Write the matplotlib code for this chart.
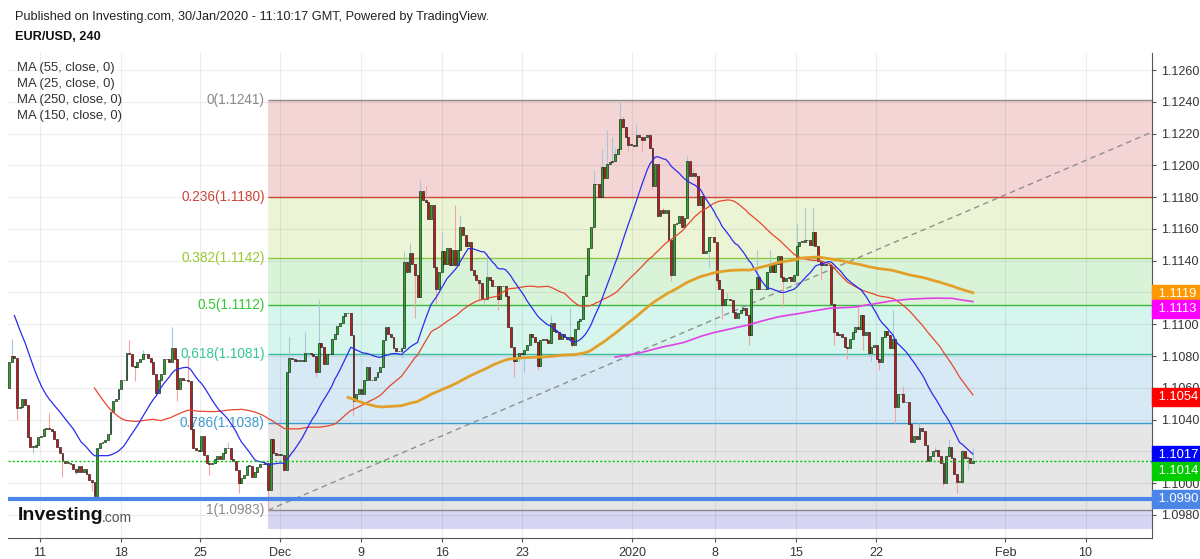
import numpy as np
import pandas as pd
import matplotlib
matplotlib.use('Agg')
import matplotlib.pyplot as plt
from matplotlib import transforms

plt.rcParams['font.family'] = ['Liberation Sans', 'DejaVu Sans']

# EUR/USD 4H closes in pips above 1.0900
# bars before the visible window (only feed the moving averages)
pre_close = [262, 258, 255, 252, 250, 245, 240, 238, 232, 225, 215,
             205, 195, 185, 178, 172, 170, 168, 165, 168, 165, 160]
close_pips = [
    176, 180, 179, 147, 148, 153, 149, 129, 123, 123,
    124, 129, 130, 134, 135, 134, 133, 128, 123, 119,
    114, 113, 113, 112, 109, 107, 111, 107, 109, 106,
    102, 101, 92, 122, 125, 126, 127, 131, 145, 152,
    153, 159, 165, 165, 182, 181, 174, 173, 176, 178,
    181, 181, 179, 176, 169, 157, 165, 169, 178, 178,
    176, 185, 178, 159, 166, 165, 165, 164, 134, 122,
    121, 120, 130, 118, 113, 112, 113, 115, 117, 115,
    119, 122, 122, 115, 114, 108, 100, 103, 105, 111,
    111, 104, 107, 110, 112, 112, 113, 96, 128, 119,
    118, 118, 118, 108, 170, 179, 178, 177, 177, 177,
    177, 182, 182, 181, 180, 170, 188, 186, 175, 181,
    181, 191, 194, 199, 201, 205, 207, 207, 193, 152,
    156, 159, 156, 165, 173, 165, 165, 167, 170, 173,
    190, 198, 194, 192, 185, 183, 183, 185, 239, 233,
    245, 238, 231, 217, 284, 278, 277, 266, 275, 236,
    222, 233, 246, 238, 248, 237, 247, 237, 247, 261,
    256, 249, 252, 234, 231, 228, 226, 216, 216, 230,
    228, 224, 224, 216, 224, 224, 218, 198, 186, 177,
    179, 182, 181, 184, 187, 194, 192, 189, 174, 190,
    191, 190, 188, 201, 196, 195, 191, 194, 192, 191,
    192, 187, 197, 202, 203, 218, 231, 248, 261, 288,
    288, 280, 299, 292, 301, 302, 303, 307, 310, 329,
    324, 318, 313, 313, 312, 319, 318, 316, 318, 319,
    311, 287, 301, 268, 272, 270, 272, 253, 231, 263,
    264, 268, 261, 267, 303, 293, 295, 293, 275, 281,
    245, 246, 255, 255, 252, 228, 222, 212, 216, 216,
    215, 208, 204, 207, 209, 210, 206, 193, 222, 222,
    230, 222, 222, 222, 233, 238, 233, 238, 243, 230,
    227, 229, 230, 227, 231, 249, 252, 252, 253, 253,
    250, 258, 249, 240, 237, 238, 237, 237, 213, 195,
    193, 194, 192, 186, 185, 191, 195, 198, 197, 206,
    193, 195, 182, 186, 187, 178, 176, 192, 196, 193,
    185, 191, 148, 156, 156, 151, 151, 137, 126, 130,
    128, 135, 133, 124, 114, 117, 120, 121, 117, 113,
    100, 117, 123, 116, 106, 101, 101, 120, 116, 116, 113, 114,
]
# visible wick extremes (bar -> pips)
wick_high = {1: 191, 15: 144, 45: 190, 50: 184, 61: 198, 67: 180, 82: 126,
             105: 192, 111: 195, 116: 215, 148: 246, 150: 251, 154: 291,
             156: 287, 162: 258, 167: 275, 169: 269, 179: 245, 203: 206,
             210: 210, 219: 297, 222: 310, 224: 322, 226: 318, 227: 311,
             229: 340, 230: 331, 235: 326, 243: 273, 245: 273, 254: 306,
             256: 298, 269: 220, 280: 247, 285: 247, 288: 243, 295: 264,
             298: 273, 301: 273, 318: 212, 331: 209, 335: 161, 341: 138,
             347: 123, 352: 128, 357: 121, 361: 122}
wick_low = {3: 140, 9: 119, 20: 104, 25: 106, 31: 95, 32: 91, 47: 164,
            63: 152, 75: 105, 86: 94, 97: 83, 115: 167, 129: 142, 147: 179,
            152: 204, 160: 213, 176: 215, 178: 212, 183: 209, 189: 167,
            191: 176, 193: 170, 198: 171, 211: 186, 232: 309, 237: 309,
            241: 285, 248: 227, 262: 236, 265: 226, 267: 203, 277: 187,
            290: 211, 304: 228, 309: 187, 314: 178, 320: 184, 323: 177,
            326: 171, 332: 138, 350: 98, 355: 94, 359: 108}

fib_ratios = [0, 0.236, 0.382, 0.5, 0.618, 0.786, 1]
fib_prices = [1.1241, 1.1180, 1.1142, 1.1112, 1.1081, 1.1038, 1.0983]
fib_start = 97          # bar of the swing low
fib_end = 456           # second anchor (off screen)

ma_windows = [55, 25, 250, 150]
tag_values = [1.1119, 1.1113, 1.1054, 1.1017, 1.1014, 1.0990]
last_price = 1.1014
support = 1.0990

xlabels = ['11', '18', '25', 'Dec', '9', '16', '23', '2020', '8', '15', '22', 'Feb', '10']
tick_pos = [11.6, 41.8, 71.5, 101.5, 131.8, 162.2, 192.1, 233.3, 264.4, 294.8, 324.7, 373.2, 403.2]

# ---------------------------------------------------------------------------
closes = 1.09 + np.array(pre_close + close_pips) / 1e4
bars = np.arange(len(closes)) - len(pre_close)
s = pd.Series(closes, index=bars)
opens = s.shift(1).bfill()

vis = bars >= 0
x = bars[vis]
o = opens.values[vis]
c = closes[vis]
hi = np.maximum(o, c)
lo = np.minimum(o, c)
for k, v in wick_high.items():
    hi[k] = max(hi[k], 1.09 + v / 1e4)
for k, v in wick_low.items():
    lo[k] = min(lo[k], 1.09 + v / 1e4)
up = c >= o

fig = plt.figure(figsize=(12, 5.59), dpi=100)
ax = fig.add_axes([8 / 1200, 1 - 538 / 559, 1144 / 1200, 485 / 559])
ax.set_xlim(-0.4, 428.1)
ax.set_ylim(1.09655, 1.12707)

# fib zones
fill_cols = ['#f4d5d5', '#ebf5d6', '#d9f3d9', '#d6f5ec', '#d6e9f4', '#e6e6e6']
line_cols = ['#8a8a8a', '#d0443a', '#8cc63f', '#3cba3c', '#3cbb9c', '#3c9ad0', '#8a8a8a']
text_cols = ['#8a8a8a', '#d0443a', '#99c933', '#33c833', '#33c89a', '#3a9ad0', '#8a8a8a']
xr = [fib_start, 428.1]
for i in range(len(fib_prices) - 1):
    ax.fill_between(xr, fib_prices[i + 1], fib_prices[i], color=fill_cols[i], lw=0, zorder=0.2)
ax.fill_between(xr, 1.0971, fib_prices[-1], color='#d6d6f4', lw=0, zorder=0.2)
for r, p, lc, tc in zip(fib_ratios, fib_prices, line_cols, text_cols):
    ax.hlines(p, fib_start, 428.1, color=lc, lw=1, zorder=1)
    ax.text(fib_start - 1.2, p, f'{r:g}({p:.4f})', ha='right', va='center',
            color=tc, fontsize=9.8, zorder=2)
ax.plot([fib_start, fib_end], [fib_prices[-1], fib_prices[0]], color='#8f8f8f',
        lw=1, dashes=(4, 3), zorder=2.5)

ax.set_axisbelow(True)
ax.grid(True, color='#000000', alpha=0.07, lw=0.8)

# candles
ax.vlines(x[up], lo[up], hi[up], color='#a9c6d6', lw=0.8, zorder=2.8)
ax.vlines(x[~up], lo[~up], hi[~up], color='#f2a3a3', lw=0.8, zorder=2.8)
body = np.maximum(np.abs(c - o), 0.00002)
ax.bar(x[up], body[up], bottom=np.minimum(o, c)[up], width=0.72,
       color='#22b022', edgecolor='#1a1a1a', linewidth=0.45, zorder=3)
ax.bar(x[~up], body[~up], bottom=np.minimum(o, c)[~up], width=0.72,
       color='#d01414', edgecolor='#1a1a1a', linewidth=0.45, zorder=3)

# moving averages
ma_style = {25: ('#2b2bf0', 0.9), 55: ('#e8472e', 0.9),
            150: ('#e2a02a', 2.0), 250: ('#e040e8', 1.2)}
for w in ma_windows:
    m = s.rolling(w).mean()
    m = m[m.index >= 0]
    col, lw = ma_style[w]
    ax.plot(m.index, m.values, color=col, lw=lw, zorder=4)

ax.axhline(support, color='#4a86e8', lw=3, zorder=4.5)
ax.axhline(last_price, color='#00c800', lw=1, ls=(0, (1.5, 1.5)), zorder=4.5)

# axes styling
for sp in ['top', 'left']:
    ax.spines[sp].set_visible(False)
for sp in ['right', 'bottom']:
    ax.spines[sp].set_color('#555555')
ax.yaxis.tick_right()
yt = np.arange(1.098, 1.12601, 0.002)
ax.set_yticks(yt)
# labels hidden behind the price tags in the original
ax.set_yticklabels(['' if round(t, 4) in (1.112, 1.102) else f'{t:.4f}' for t in yt])
ax.set_xticks(tick_pos)
ax.set_xticklabels(xlabels)
ax.tick_params(axis='both', labelsize=9, colors='#555555', labelcolor='#333333',
               length=3, width=0.8)

# price tags on the right axis
tag_cols = ['#ff9800', '#ff00ff', '#ff0000', '#0000ff', '#00cc00', '#4a86e8']
tag_shift = [0, -4, 0, 1, -7, 0]
blend = transforms.blended_transform_factory(ax.transAxes, ax.transData)
for v, col, dy in zip(tag_values, tag_cols, tag_shift):
    tr = transforms.offset_copy(blend, fig=fig, x=2, y=dy, units='points')
    ax.text(1.0, v, f' {v:.4f}', transform=tr, ha='left', va='center',
            color='white', fontsize=9.4, clip_on=False, zorder=6,
            bbox=dict(boxstyle='square,pad=0.22', fc=col, ec=col))

# header and legend texts
fig.text(15 / 1200, 1 - 17 / 559, 'Published on Investing.com, 30/Jan/2020 - 11:10:17 GMT, Powered by TradingView.',
         fontsize=9.2, color='#222222', va='center')
fig.text(15 / 1200, 1 - 37 / 559, 'EUR/USD, 240', fontsize=9.2, fontweight='bold',
         color='#111111', va='center')
for i, w in enumerate(ma_windows):
    fig.text(17 / 1200, 1 - (68 + 16 * i) / 559, f'MA ({w}, close, 0)', fontsize=9.4,
             color='#333333', va='center')

# logo
fig.text(18 / 1200, 1 - 516 / 559, 'Investing', fontsize=14, fontweight='bold',
         color='#111111', va='center')
fig.text(102 / 1200, 1 - 518 / 559, '.com', fontsize=10, color='#555555', va='center')

fig.savefig('out.png', dpi=100)
